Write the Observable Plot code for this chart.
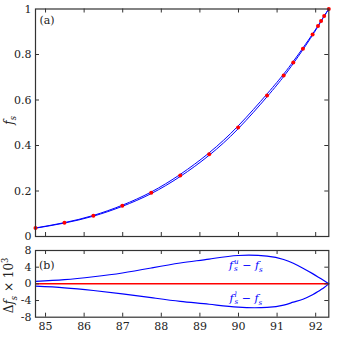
<!DOCTYPE html>
<html><head><meta charset="utf-8">
<script src="https://cdn.jsdelivr.net/npm/d3@7"></script>
<script src="https://cdn.jsdelivr.net/npm/@observablehq/plot@0.6"></script>
<style>
body{margin:0;background:#fff;}
#c{position:relative;width:349px;height:339px;font-family:"DejaVu Serif",serif;color:#222;}
#c svg{position:absolute;left:0;}
#c svg text{font-family:"DejaVu Serif",serif;}
.lab{position:absolute;white-space:nowrap;line-height:1;}
.ss{display:inline-flex;flex-direction:column;vertical-align:middle;font-size:0.65em;line-height:0.95;margin-left:1px;}
</style></head><body><div id="c"></div>
<script>
// data
const xs = [84.74, 85.49, 86.24, 86.99, 87.74, 88.49, 89.24, 89.99, 90.74, 91.17, 91.42, 91.67, 91.92, 92.06, 92.14, 92.22, 92.34];
const fs = [0.037, 0.060, 0.091, 0.135, 0.192, 0.268, 0.362, 0.479, 0.620, 0.708, 0.765, 0.825, 0.888, 0.925, 0.947, 0.969, 1.0];
const du = [0.6, 1.0, 1.7, 2.6, 3.8, 5.0, 5.95, 6.8, 6.65, 5.85, 4.95, 3.75, 2.45, 1.66, 1.2, 0.73, 0];   // (f_s^u - f_s) x 10^3
const dl = [-0.56, -0.95, -1.6, -2.4, -3.3, -4.2, -4.9, -5.6, -5.65, -5.1, -4.4, -3.68, -2.62, -1.86, -1.37, -0.86, 0]; // (f_s^l - f_s) x 10^3
const xTicks = [85, 86, 87, 88, 89, 90, 91, 92];
const fTicks = [0, 0.2, 0.4, 0.6, 0.8, 1];
const dTicks = [-8, -4, 0, 4, 8];
const xDomain = [84.74, 92.34];

const rows = xs.map((x, i) => ({x, f: fs[i], fu: fs[i] + du[i] / 1000, fl: fs[i] + dl[i] / 1000, du: du[i], dl: dl[i]}));

const BLUE = "#0000ff", RED = "#ff0000", AX = "#333";
const W = 349, ML = 35, MR = 20.7;
const FONT = '"DejaVu Serif", serif';
const style = {fontSize: "11px", fontFamily: FONT, color: "#222", background: "transparent", overflow: "visible"};

function tickRules(fh, fw, xt, yt) {
  const t = 4;
  return [
    Plot.ruleX(xt, {x: d => d, insetBottom: fh - t, stroke: AX}),
    Plot.ruleX(xt, {x: d => d, insetTop: fh - t, stroke: AX}),
    Plot.ruleY(yt, {y: d => d, insetRight: fw - t, stroke: AX}),
    Plot.ruleY(yt, {y: d => d, insetLeft: fw - t, stroke: AX})
  ];
}

// top panel
const H1 = 246, MT1 = 8.5, MB1 = 10;
const fh1 = H1 - MT1 - MB1, fw = W - ML - MR;
const p1 = Plot.plot({
  width: W, height: H1, marginTop: MT1, marginBottom: MB1, marginLeft: ML, marginRight: MR,
  style,
  x: {domain: xDomain, axis: null},
  y: {domain: [0, 1], ticks: fTicks, tickSize: 0, tickPadding: 4, tickFormat: d => String(d), label: null},
  marks: [
    Plot.line(rows, {x: "x", y: "fu", stroke: BLUE, strokeWidth: 1, curve: "natural"}),
    Plot.line(rows, {x: "x", y: "fl", stroke: BLUE, strokeWidth: 1, curve: "natural"}),
    Plot.dot(rows, {x: "x", y: "f", r: 2, fill: RED, stroke: null}),
    ...tickRules(fh1, fw, xTicks, fTicks.slice(1, -1)),
    Plot.frame({stroke: AX, strokeWidth: 1.2})
  ]
});
p1.style.top = "0px";

// bottom panel
const H2 = 99, MT2 = 10, MB2 = 22.3;
const fh2 = H2 - MT2 - MB2;
const p2 = Plot.plot({
  width: W, height: H2, marginTop: MT2, marginBottom: MB2, marginLeft: ML, marginRight: MR,
  style,
  x: {domain: xDomain, ticks: xTicks, tickSize: 0, tickPadding: 5, tickFormat: d => String(d), label: null},
  y: {domain: [-8, 8], ticks: dTicks, tickSize: 0, tickPadding: 4, tickFormat: d => String(d), label: null},
  marks: [
    Plot.line(rows, {x: "x", y: "du", stroke: BLUE, strokeWidth: 1.2, curve: "natural"}),
    Plot.line(rows, {x: "x", y: "dl", stroke: BLUE, strokeWidth: 1.2, curve: "natural"}),
    Plot.ruleY([0], {stroke: RED, strokeWidth: 1.5}),
    ...tickRules(fh2, fw, xTicks, dTicks.slice(1, -1)),
    Plot.frame({stroke: AX, strokeWidth: 1.2})
  ]
});
p2.style.top = "240px";

const c = document.getElementById("c");
c.appendChild(p1);
c.appendChild(p2);

function label(html, cx, cy, extra = "") {
  const d = document.createElement("div");
  d.className = "lab";
  d.innerHTML = html;
  d.style.cssText += extra;
  c.appendChild(d);
  d.style.left = (cx - d.offsetWidth / 2) + "px";
  d.style.top = (cy - d.offsetHeight / 2) + "px";
  return d;
}
label("(a)", 47, 20, "font-size:11px;");
label("(b)", 47, 265, "font-size:11px;");
label('<i>f</i><sub style="font-size:0.7em"><i>s</i></sub>', 10, 120, "font-size:12px;transform:rotate(-90deg);transform-origin:center;");
label('Δ<i>f</i><sub style="font-size:0.7em"><i>s</i></sub> × 10<sup style="font-size:0.7em">3</sup>', 10, 285, "font-size:12px;transform:rotate(-90deg);transform-origin:center;");
label('<i>f</i><span class="ss"><i>u</i><i>s</i></span> − <i>f</i><sub style="font-size:0.65em"><i>s</i></sub>', 246, 266, "font-size:11px;color:#0000ff;");
label('<i>f</i><span class="ss"><i>l</i><i>s</i></span> − <i>f</i><sub style="font-size:0.65em"><i>s</i></sub>', 246, 299, "font-size:11px;color:#0000ff;");
</script></body></html>
